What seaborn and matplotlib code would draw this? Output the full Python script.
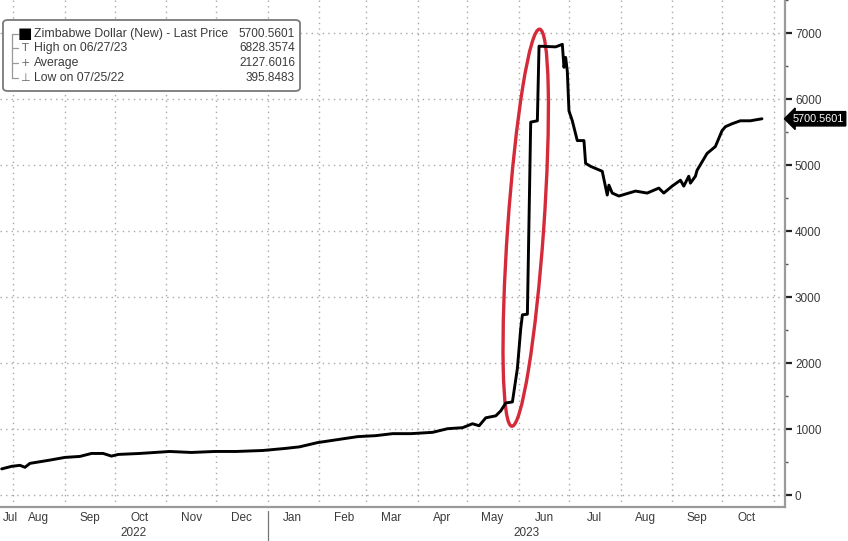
import pandas as pd
import seaborn as sns
import matplotlib.pyplot as plt
import matplotlib.dates as mdates
from matplotlib.patches import Ellipse, FancyBboxPatch
from matplotlib.lines import Line2D
from matplotlib.transforms import IdentityTransform, blended_transform_factory

# Zimbabwe dollar (new), last price
dates = [
    '2022-07-25', '2022-07-31', '2022-08-05', '2022-08-08', '2022-08-11', '2022-08-22',
    '2022-09-01', '2022-09-10', '2022-09-17', '2022-09-24', '2022-09-29', '2022-10-03',
    '2022-10-16', '2022-11-03', '2022-11-16', '2022-11-30', '2022-12-13', '2022-12-29',
    '2023-01-11', '2023-01-20', '2023-01-31', '2023-02-12', '2023-02-24', '2023-03-07',
    '2023-03-17', '2023-03-28', '2023-04-10', '2023-04-19', '2023-04-28', '2023-05-04',
    '2023-05-08', '2023-05-12', '2023-05-18', '2023-05-21', '2023-05-24', '2023-05-28',
    '2023-05-31', '2023-06-02', '2023-06-03', '2023-06-06', '2023-06-08', '2023-06-12',
    '2023-06-13', '2023-06-23', '2023-06-27', '2023-06-28', '2023-06-29', '2023-06-30',
    '2023-07-01', '2023-07-03', '2023-07-06', '2023-07-10', '2023-07-11', '2023-07-14',
    '2023-07-21', '2023-07-24', '2023-07-25', '2023-07-27', '2023-07-31', '2023-08-06',
    '2023-08-10', '2023-08-17', '2023-08-24', '2023-08-27', '2023-09-01', '2023-09-06',
    '2023-09-08', '2023-09-11', '2023-09-12', '2023-09-15', '2023-09-16', '2023-09-22',
    '2023-09-27', '2023-10-01', '2023-10-03', '2023-10-07', '2023-10-12', '2023-10-18',
    '2023-10-25',
]
prices = [
    395.85, 435, 450, 420, 480, 525,
    570, 585, 630, 630, 590, 615,
    630, 660, 645, 660, 660, 675,
    705, 730, 795, 840, 885, 900,
    930, 930, 950, 1005, 1020, 1080,
    1050, 1170, 1200, 1275, 1395, 1410,
    1920, 2520, 2730, 2740, 5650, 5670,
    6800, 6790, 6828.36, 6480, 6630, 6420,
    5820, 5670, 5370, 5370, 5025, 4980,
    4905, 4545, 4695, 4575, 4530, 4575,
    4605, 4575, 4650, 4575, 4680, 4770,
    4680, 4830, 4725, 4830, 4920, 5175,
    5280, 5520, 5580, 5625, 5670, 5670,
    5700.56,
]

legend_labels = ['Zimbabwe Dollar (New) - Last Price', 'High on 06/27/23', 'Average', 'Low on 07/25/22']
legend_values = ['5700.5601', '6828.3574', '2127.6016', '395.8483']
legend_icons = ['\u25a0', 'T', '+', '\u22a5']
last_price = 5700.5601
y_ticks = [0, 1000, 2000, 3000, 4000, 5000, 6000, 7000]

df = pd.DataFrame({'date': pd.to_datetime(dates), 'price': prices})

sns.set_style('white')
plt.rcParams['font.family'] = ['Liberation Sans', 'DejaVu Sans']
text_col = '#3a3a3a'

fig = plt.figure(figsize=(8.48, 5.41), dpi=100)
ax = fig.add_axes([0.0, 0.063, 0.926, 0.937])

sns.lineplot(data=df, x='date', y='price', color='black', lw=2.1, ax=ax)

ax.set_xlim(pd.Timestamp('2022-07-24'), pd.Timestamp('2023-11-08'))
ax.set_ylim(-180, 7420)
ax.set_xlabel('')
ax.set_ylabel('')

# y axis on the right
ax.yaxis.tick_right()
ax.set_yticks(y_ticks)
ax.set_yticks([v + 500 for v in y_ticks], minor=True)
ax.tick_params(axis='y', which='major', length=5, width=1.6, color='#222',
               labelsize=8.5, labelcolor=text_col, pad=2)
ax.tick_params(axis='y', which='minor', length=2.5, width=1, color='#555')

# x axis: ticks at month boundaries, labels in between
ax.xaxis.set_major_locator(mdates.MonthLocator())
ax.xaxis.set_major_formatter(plt.NullFormatter())
label_days = [pd.Timestamp('2022-07-30')] + list(pd.date_range('2022-08-01', '2023-10-01', freq='MS') + pd.Timedelta(days=15))
ax.xaxis.set_minor_locator(plt.FixedLocator(mdates.date2num(label_days)))
ax.xaxis.set_minor_formatter(mdates.DateFormatter('%b'))
ax.tick_params(axis='x', which='major', length=3, width=1.4, color='#333', direction='out')
ax.tick_params(axis='x', which='minor', length=0, labelsize=8.5, labelcolor=text_col, pad=4)

for s in ['top', 'left']:
    ax.spines[s].set_visible(False)
for s in ['right', 'bottom']:
    ax.spines[s].set_color('#9a9a9a')
    ax.spines[s].set_linewidth(1.6)

ax.grid(True, which='major', axis='both', linestyle=(0, (1, 3)), color='#a8a8a8', lw=1)

# year labels and separator
xtrans = blended_transform_factory(ax.transData, ax.transAxes)
x0, x1 = ax.get_xlim()
jan1 = mdates.date2num(pd.Timestamp('2023-01-01'))
ax.text((x0 + jan1) / 2, -0.052, '2022', transform=xtrans, ha='center', va='center',
        fontsize=8.5, color=text_col)
ax.text((jan1 + x1) / 2, -0.052, '2023', transform=xtrans, ha='center', va='center',
        fontsize=8.5, color=text_col)
ax.plot([jan1, jan1], [-0.008, -0.075], transform=xtrans, color='#777', lw=0.9, clip_on=False)

# last price tag
ytrans = blended_transform_factory(ax.transAxes, ax.transData)
ax.annotate(f'{last_price:.4f}', xy=(1.0, last_price), xycoords=ytrans,
            xytext=(5, 0), textcoords='offset points', va='center', ha='left',
            color='white', fontsize=7.8, annotation_clip=False,
            bbox=dict(boxstyle='larrow,pad=0.2', fc='black', ec='black'))

# red ellipse around the spike
fig.canvas.draw()
cx, cy = ax.transData.transform((mdates.date2num(pd.Timestamp('2023-06-05')), 4050))
ax.add_patch(Ellipse((cx, cy), width=36, height=398, angle=-4, transform=IdentityTransform(),
                     fill=False, ec='#d42a3a', lw=2.4, clip_on=False))

# legend box (pixel positions, y measured from the top)
W, H = 848, 541
def fx(px):
    return px / W
def fy(py):
    return 1 - py / H

fig.patches.append(FancyBboxPatch((fx(3), fy(91)), fx(297), 71 / H, transform=fig.transFigure,
                                  boxstyle='round,pad=0,rounding_size=0.006',
                                  fc='white', ec='#7a7a7a', lw=1.3))
rows = [34, 48, 63, 78]
fig.lines.append(Line2D([fx(12), fx(12)], [fy(34), fy(78)], transform=fig.transFigure,
                        color='#999', lw=0.9))
for r, icon, lab, val in zip(rows, legend_icons, legend_labels, legend_values):
    fig.lines.append(Line2D([fx(12), fx(18)], [fy(r), fy(r)], transform=fig.transFigure,
                            color='#999', lw=0.9))
    fig.text(fx(25), fy(r), icon, ha='center', va='center', family=['DejaVu Sans'],
             fontsize=11 if icon == '\u25a0' else 8, color='black' if icon == '\u25a0' else '#666')
    fig.text(fx(34), fy(r), lab, ha='left', va='center', fontsize=8.8, color=text_col)
    fig.text(fx(295), fy(r), val, ha='right', va='center', fontsize=8.5, color=text_col)

fig.savefig('out.png', dpi=100)
